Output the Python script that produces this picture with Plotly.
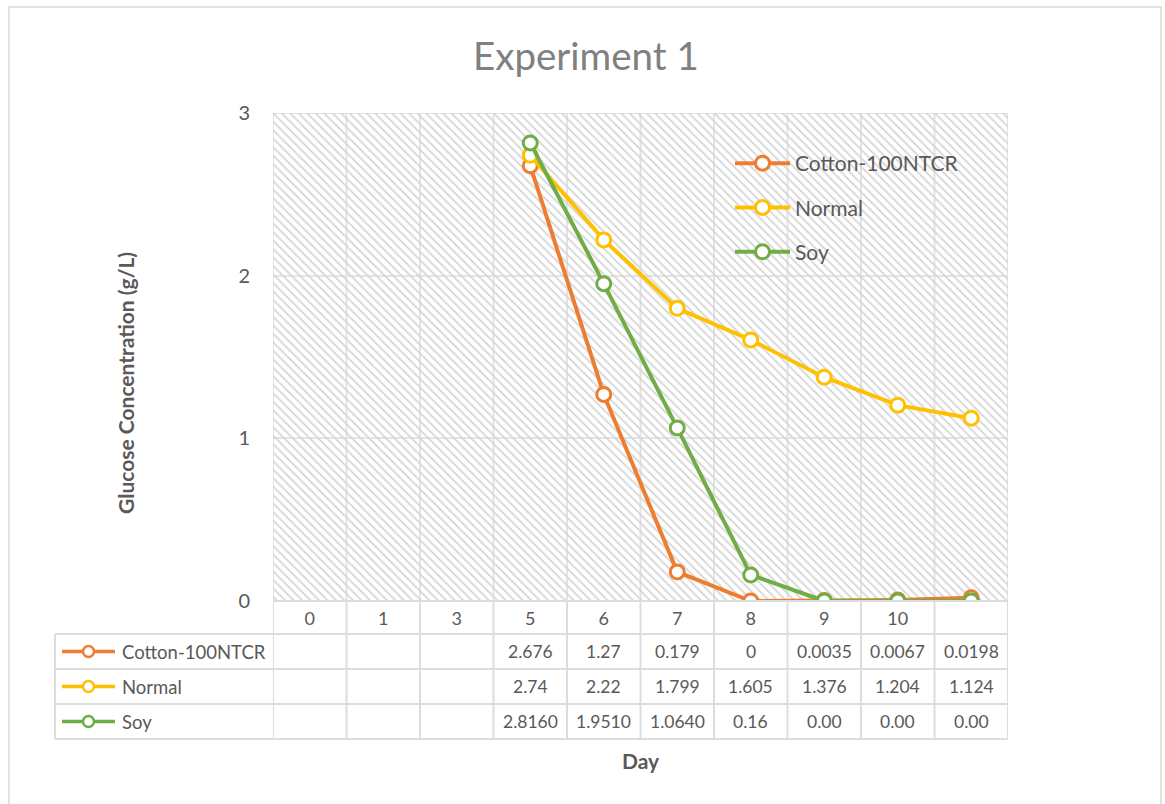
import plotly.graph_objects as go

# ---------------- data ----------------
days = ["0", "1", "3", "5", "6", "7", "8", "9", "10", ""]
series_names = ["Cotton-100NTCR", "Normal", "Soy"]
cotton = [None, None, None, 2.676, 1.27, 0.179, 0, 0.0035, 0.0067, 0.0198]
normal = [None, None, None, 2.74, 2.22, 1.799, 1.605, 1.376, 1.204, 1.124]
soy = [None, None, None, 2.816, 1.951, 1.064, 0.16, 0.00, 0.00, 0.00]
cotton_txt = ["", "", "", "2.676", "1.27", "0.179", "0", "0.0035", "0.0067", "0.0198"]
normal_txt = ["", "", "", "2.74", "2.22", "1.799", "1.605", "1.376", "1.204", "1.124"]
soy_txt = ["", "", "", "2.8160", "1.9510", "1.0640", "0.16", "0.00", "0.00", "0.00"]
y_ticks = [0, 1, 2, 3]

# ---------------- style ----------------
W, H = 1165, 804
FONT = "Lato"
GRAY = "#595959"
GRID = "#DDDDDD"
colors = ["#ED7D31", "#FFC000", "#70AD47"]
values = [cotton, normal, soy]
texts = [cotton_txt, normal_txt, soy_txt]

PX0, PX1 = 273, 1008   # plot area in px
PY0, PY1 = 113, 601
def px(x): return x / W
def py(y): return 1 - y / H

xs = list(range(len(days)))
xr = [-0.5, len(days) - 0.5]
yr = [0, 3]

fig = go.Figure()

# patterned plot background
fig.add_trace(go.Scatter(
    x=[xr[0], xr[1], xr[1], xr[0], xr[0]], y=[yr[0], yr[0], yr[1], yr[1], yr[0]],
    mode="none", fill="toself", fillcolor="rgba(0,0,0,0)",
    fillpattern=dict(shape="\\", fgcolor="#D4D4D4", bgcolor="rgba(255,255,255,0)",
                     size=6, solidity=0.28),
    hoverinfo="skip", showlegend=False))

for name, vals, c in zip(series_names, values, colors):
    fig.add_trace(go.Scatter(
        x=xs, y=vals, name=name, legendgroup=name, mode="lines+markers",
        line=dict(color=c, width=4),
        marker=dict(symbol="circle", size=14, color="white", line=dict(color=c, width=3)),
        connectgaps=False))

shapes = []
annotations = []

# outer chart border
shapes.append(dict(type="rect", xref="paper", yref="paper", x0=px(9), x1=px(1161),
                   y0=py(812), y1=py(7), line=dict(color="#D9D9D9", width=1.5), layer="below"))

# table
row_bounds = [601, 634, 669, 704, 739]
for i in range(len(days) + 1):
    shapes.append(dict(type="line", xref="x", yref="paper", x0=i - 0.5, x1=i - 0.5,
                       y0=py(row_bounds[-1]), y1=py(row_bounds[0]),
                       line=dict(color=GRID, width=2)))
shapes.append(dict(type="line", xref="paper", yref="paper", x0=px(55), x1=px(55),
                   y0=py(row_bounds[-1]), y1=py(row_bounds[1]), line=dict(color=GRID, width=2)))
for k, yb in enumerate(row_bounds):
    x0 = px(PX0) if k == 0 else px(55)
    shapes.append(dict(type="line", xref="paper", yref="paper", x0=x0, x1=px(PX1),
                       y0=py(yb), y1=py(yb), line=dict(color=GRID, width=2)))

for r, (name, txts, c) in enumerate(zip(series_names, texts, colors)):
    yc = (row_bounds[r + 1] + row_bounds[r + 2]) / 2
    shapes.append(dict(type="line", xref="paper", yref="paper", x0=px(62), x1=px(115),
                       y0=py(yc), y1=py(yc), line=dict(color=c, width=3.5)))
    shapes.append(dict(type="circle", xref="paper", yref="paper", x0=px(83), x1=px(94),
                       y0=py(yc + 5.5), y1=py(yc - 5.5), fillcolor="white",
                       line=dict(color=c, width=2.5)))
    annotations.append(dict(xref="paper", yref="paper", x=px(120), y=py(yc), text=name,
                            showarrow=False, xanchor="left", yanchor="middle",
                            font=dict(family=FONT, size=18.5, color=GRAY)))
    for i, t in enumerate(txts):
        if t:
            annotations.append(dict(xref="x", yref="paper", x=i, y=py(yc), text=t,
                                    showarrow=False, xanchor="center", yanchor="middle",
                                    font=dict(family=FONT, size=17.5, color=GRAY)))

# titles
annotations.append(dict(xref="paper", yref="paper", x=px(586), y=py(55), text="Experiment 1",
                        showarrow=False, xanchor="center", yanchor="middle",
                        font=dict(family=FONT, size=38.5, color="#808080")))
annotations.append(dict(xref="paper", yref="paper", x=px(125), y=py(383),
                        text="<b>Glucose Concentration (g/L)</b>", textangle=-90,
                        showarrow=False, xanchor="center", yanchor="middle",
                        font=dict(family=FONT, size=21, color=GRAY)))
annotations.append(dict(xref="paper", yref="paper", x=px(641), y=py(760), text="<b>Day</b>",
                        showarrow=False, xanchor="center", yanchor="middle",
                        font=dict(family=FONT, size=21, color=GRAY)))

fig.update_layout(
    template="none",
    width=W, height=H, autosize=False,
    margin=dict(l=0, r=0, t=0, b=0, pad=0, autoexpand=False),
    paper_bgcolor="white", plot_bgcolor="white",
    font=dict(family=FONT, color=GRAY),
    xaxis=dict(domain=[px(PX0), px(PX1)], range=xr, tickmode="array", tickvals=xs,
               ticktext=days, showgrid=False, zeroline=False, showline=False,
               ticks="", ticklabelstandoff=5, tickfont=dict(size=18, color=GRAY),
               fixedrange=True, automargin=False),
    yaxis=dict(domain=[py(PY1), py(PY0)], range=yr, tickvals=y_ticks,
               showgrid=True, gridcolor="#E3E3E3", gridwidth=2, zeroline=False,
               showline=False, ticks="", ticklabelstandoff=22,
               tickfont=dict(size=20, color=GRAY), fixedrange=True, automargin=False),
    legend=dict(x=px(730), y=py(143), xanchor="left", yanchor="top", itemwidth=55,
                bgcolor="rgba(0,0,0,0)", font=dict(family=FONT, size=21, color=GRAY),
                traceorder="grouped", tracegroupgap=14),
    shapes=shapes, annotations=annotations,
)
for i in range(len(days) + 1):
    fig.add_shape(type="line", xref="x", yref="y", x0=i - 0.5, x1=i - 0.5, y0=yr[0], y1=yr[1],
                  line=dict(color="#E3E3E3", width=2), layer="below")
fig.add_shape(type="line", xref="x", yref="y", x0=xr[0], x1=xr[1], y0=yr[1], y1=yr[1],
              line=dict(color="#E3E3E3", width=2), layer="below")

fig.write_html("out.html", config={"displayModeBar": False},
               post_script="document.body.style.margin='0';document.body.style.overflow='hidden';")
